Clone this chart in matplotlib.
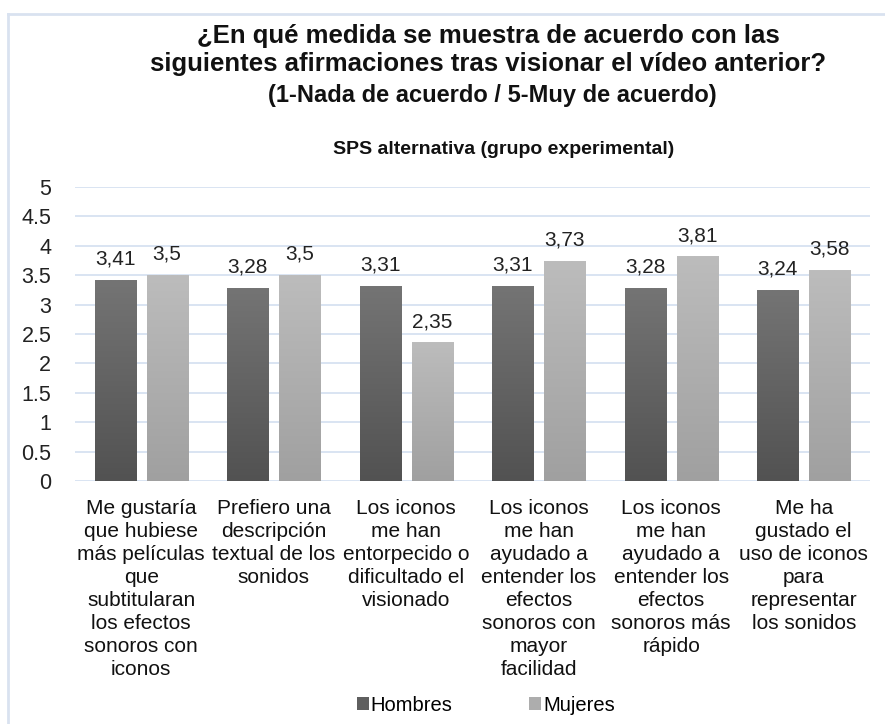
import numpy as np
import matplotlib
matplotlib.use("Agg")
import matplotlib.pyplot as plt
from matplotlib.lines import Line2D
from matplotlib.patches import Patch

plt.rcParams['font.family'] = ['Liberation Sans', 'DejaVu Sans']

# data
categories = [
    "Me gustaría\nque hubiese\nmás películas\nque\nsubtitularan\nlos efectos\nsonoros con\niconos",
    "Prefiero una\ndescripción\ntextual de los\nsonidos",
    "Los iconos\nme han\nentorpecido o\ndificultado el\nvisionado",
    "Los iconos\nme han\nayudado a\nentender los\nefectos\nsonoros con\nmayor\nfacilidad",
    "Los iconos\nme han\nayudado a\nentender los\nefectos\nsonoros más\nrápido",
    "Me ha\ngustado el\nuso de iconos\npara\nrepresentar\nlos sonidos",
]
hombres = [3.41, 3.28, 3.31, 3.31, 3.28, 3.24]
mujeres = [3.5, 3.5, 2.35, 3.73, 3.81, 3.58]
yticks = [0, 0.5, 1, 1.5, 2, 2.5, 3, 3.5, 4, 4.5, 5]
ytick_labels = ["0", "0.5", "1", "1.5", "2", "2.5", "3", "3.5", "4", "4.5", "5"]

fig = plt.figure(figsize=(8.85, 7.24), dpi=100)
ax = fig.add_axes([0.0847, 0.3356, 0.8983, 0.4061])

x = np.arange(len(categories))
w = 0.31
off = 0.196
bars_h = ax.bar(x - off, hombres, w, color="#5f5f5f", zorder=2)
bars_m = ax.bar(x + off, mujeres, w, color="#adadad", zorder=2)

# vertical gradient on the bars (lighter top, darker bottom)
def shade(bars, top, bottom):
    ct = np.array(matplotlib.colors.to_rgb(top))
    cb = np.array(matplotlib.colors.to_rgb(bottom))
    t = np.linspace(0, 1, 100)[:, None]
    grad = (ct * t + cb * (1 - t))[:, None, :]
    for b in bars:
        x0, y0 = b.get_x(), b.get_y()
        ax.imshow(grad, extent=[x0, x0 + b.get_width(), y0, y0 + b.get_height()],
                  origin="lower", aspect="auto", zorder=2.5)
        b.set_facecolor("none")

shade(bars_h, "#747474", "#525252")
shade(bars_m, "#bcbcbc", "#a0a0a0")

for xi, v in zip(x, hombres):
    ax.text(xi - off, v + 0.2, str(v).replace(".", ","), ha="center", va="bottom",
            fontsize=15, color="#222222")
for xi, v in zip(x, mujeres):
    ax.text(xi + off, v + 0.2, str(v).replace(".", ","), ha="center", va="bottom",
            fontsize=15, color="#222222")

ax.set_xlim(-0.5, len(categories) - 0.5)
ax.set_ylim(0, 5)
ax.set_yticks(yticks)
ax.set_yticklabels(ytick_labels, fontsize=15.5, color="#222222")
ax.set_xticks(x)
ax.set_xticklabels(categories, fontsize=15, color="#111111", linespacing=1.27, va="top")
ax.tick_params(axis="both", length=0)
ax.tick_params(axis="x", pad=13)
ax.tick_params(axis="y", pad=17)
ax.grid(axis="y", color="#d3dff0", linewidth=1.2, zorder=0)
ax.set_axisbelow(True)
for s in ax.spines.values():
    s.set_visible(False)

fig.text(0.552, 0.931, "¿En qué medida se muestra de acuerdo con las\nsiguientes afirmaciones tras visionar el vídeo anterior?",
         ha="center", va="center", fontsize=18.5, fontweight="bold", linespacing=1.25, color="#111111")
fig.text(0.556, 0.868, "(1-Nada de acuerdo / 5-Muy de acuerdo)",
         ha="center", va="center", fontsize=17, fontweight="bold", color="#111111")
fig.text(0.569, 0.794, "SPS alternativa (grupo experimental)",
         ha="center", va="center", fontsize=14, fontweight="bold", color="#111111")

handles = [Patch(facecolor="#5f5f5f"), Patch(facecolor="#adadad")]
fig.legend(handles, ["Hombres", "Mujeres"], loc="center", bbox_to_anchor=(0.549, 0.026),
           ncol=2, frameon=False, fontsize=14.5, handlelength=0.6, handleheight=0.6,
           handletextpad=0.1, columnspacing=3.8)

# outer frame: only left and top edges visible
fig.add_artist(Line2D([0.0085, 0.0085], [0, 0.981], transform=fig.transFigure,
                      color="#d9e2f0", linewidth=2))
fig.add_artist(Line2D([0.0085, 1], [0.981, 0.981], transform=fig.transFigure,
                      color="#d9e2f0", linewidth=2))

fig.savefig("out.png", dpi=100, facecolor="white")
